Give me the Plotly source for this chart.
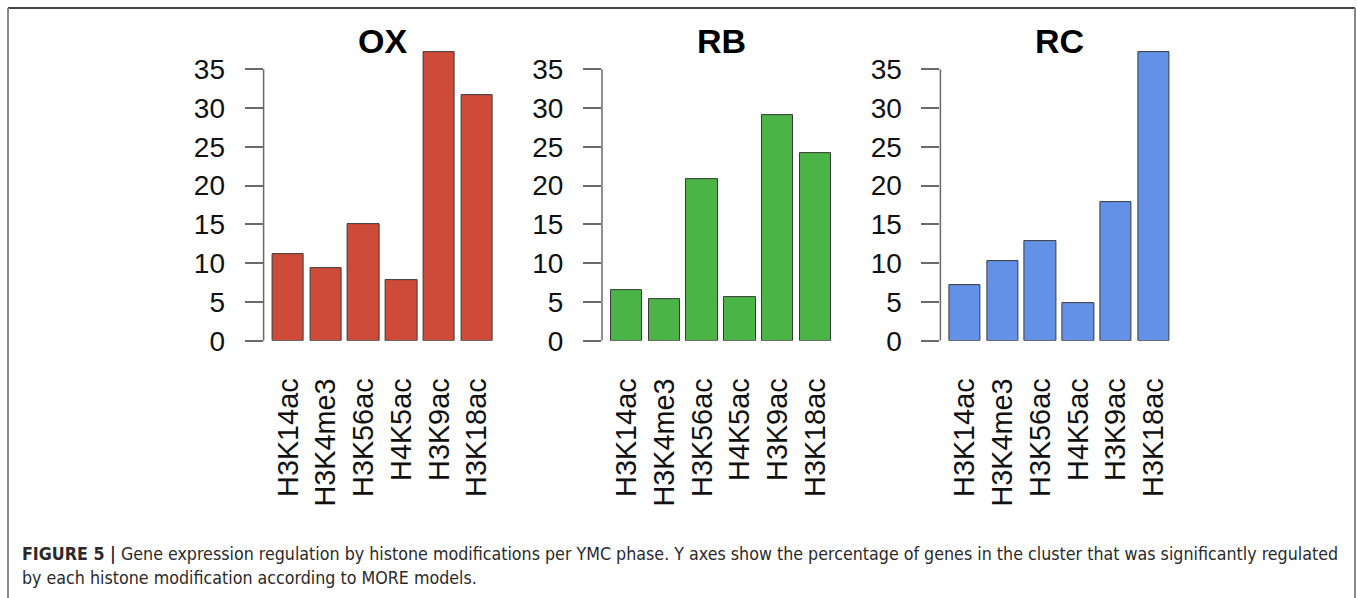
import plotly.graph_objects as go

# Histone marks shown on every panel
marks = ["H3K14ac", "H3K4me3", "H3K56ac", "H4K5ac", "H3K9ac", "H3K18ac"]

# Percentage of cluster genes regulated by each mark, per YMC phase
ox_values = [11.2, 9.4, 15.05, 7.85, 37.2, 31.65]
rb_values = [6.55, 5.4, 20.85, 5.65, 29.1, 24.15]
rc_values = [7.15, 10.3, 12.8, 4.85, 17.9, 37.25]

phases = ["OX", "RB", "RC"]
y_ticks = [0, 5, 10, 15, 20, 25, 30, 35]

W, H = 1357, 598
colors = ["#CD4B38", "#4BB446", "#6391E8"]
series = [ox_values, rb_values, rc_values]

# plot-region geometry in pixels
left_px = [263.6, 602.0, 940.4]
panel_w = 238.1
bottom_px, top_px = 340.7, 42.1

fig = go.Figure()
layout_axes = {}
shapes = []
annotations = []

tick_font = dict(family="Liberation Sans, Arial, sans-serif", size=28, color="#111")
cat_font = dict(family="Liberation Sans, Arial, sans-serif", size=28.8, color="#111")

for i, (phase, vals, col) in enumerate(zip(phases, series, colors)):
    sfx = "" if i == 0 else str(i + 1)
    fig.add_trace(go.Bar(
        x=marks, y=vals, width=0.833,
        marker=dict(color=col, line=dict(color="#3a3a3a", width=1)),
        xaxis="x" + sfx, yaxis="y" + sfx, showlegend=False,
        hoverinfo="x+y",
    ))
    x0 = left_px[i] / W
    x1 = (left_px[i] + panel_w) / W
    layout_axes["xaxis" + sfx] = dict(
        domain=[x0, x1], anchor="y" + sfx, type="category", automargin=False,
        range=[-0.65, 5.65], tickangle=-90, showline=False, ticks="",
        showgrid=False, zeroline=False, ticklabelstandoff=31,
        tickfont=cat_font,
    )
    layout_axes["yaxis" + sfx] = dict(
        domain=[1 - bottom_px / H, 1 - top_px / H], anchor="x" + sfx, automargin=False,
        range=[0, 38.5], tickvals=y_ticks, ticktext=[str(t) for t in y_ticks],
        ticks="outside", ticklen=18, tickwidth=1.5, tickcolor="#6a6a6a",
        showline=False, showgrid=False, zeroline=False, ticklabelstandoff=14,
        tickfont=tick_font,
    )
    # R-style axis line spanning the first to the last tick only
    shapes.append(dict(
        type="line", xref="x" + sfx + " domain", yref="y" + sfx,
        x0=0, x1=0, y0=y_ticks[0], y1=y_ticks[-1],
        line=dict(color="#6a6a6a", width=1.5),
    ))
    annotations.append(dict(
        text="<b>%s</b>" % phase, xref="paper", yref="paper",
        x=(x0 + x1) / 2, y=1 - 41 / H, xanchor="center", yanchor="middle",
        showarrow=False,
        font=dict(family="Liberation Sans, Arial, sans-serif", size=34, color="#000"),
    ))

# figure frame
shapes += [
    dict(type="line", xref="paper", yref="paper", x0=8 / W, x1=1355 / W,
         y0=1 - 8 / H, y1=1 - 8 / H, line=dict(color="#444", width=2)),
    dict(type="line", xref="paper", yref="paper", x0=8 / W, x1=8 / W,
         y0=0, y1=1 - 8 / H, line=dict(color="#888", width=2)),
    dict(type="line", xref="paper", yref="paper", x0=1355 / W, x1=1355 / W,
         y0=0, y1=1 - 8 / H, line=dict(color="#888", width=2)),
]

cap_font = dict(family="Liberation Sans Narrow, DejaVu Sans Condensed, Liberation Sans, Arial, sans-serif",
                size=17.7, color="#2a2a2a")
annotations += [
    dict(text="<b>FIGURE 5 |</b> Gene expression regulation by histone modifications per YMC phase. "
              "Y axes show the percentage of genes in the cluster that was significantly regulated",
         xref="paper", yref="paper", x=20 / W, y=1 - 554 / H, xanchor="left", yanchor="middle",
         showarrow=False, font=cap_font),
    dict(text="by each histone modification according to MORE models.",
         xref="paper", yref="paper", x=20 / W, y=1 - 578 / H, xanchor="left", yanchor="middle",
         showarrow=False, font=cap_font),
]

fig.update_layout(
    width=W, height=H, margin=dict(l=0, r=0, t=0, b=0, autoexpand=False),
    paper_bgcolor="white", plot_bgcolor="white",
    shapes=shapes, annotations=annotations, bargap=0,
    **layout_axes,
)

fig.write_html("out.html")
